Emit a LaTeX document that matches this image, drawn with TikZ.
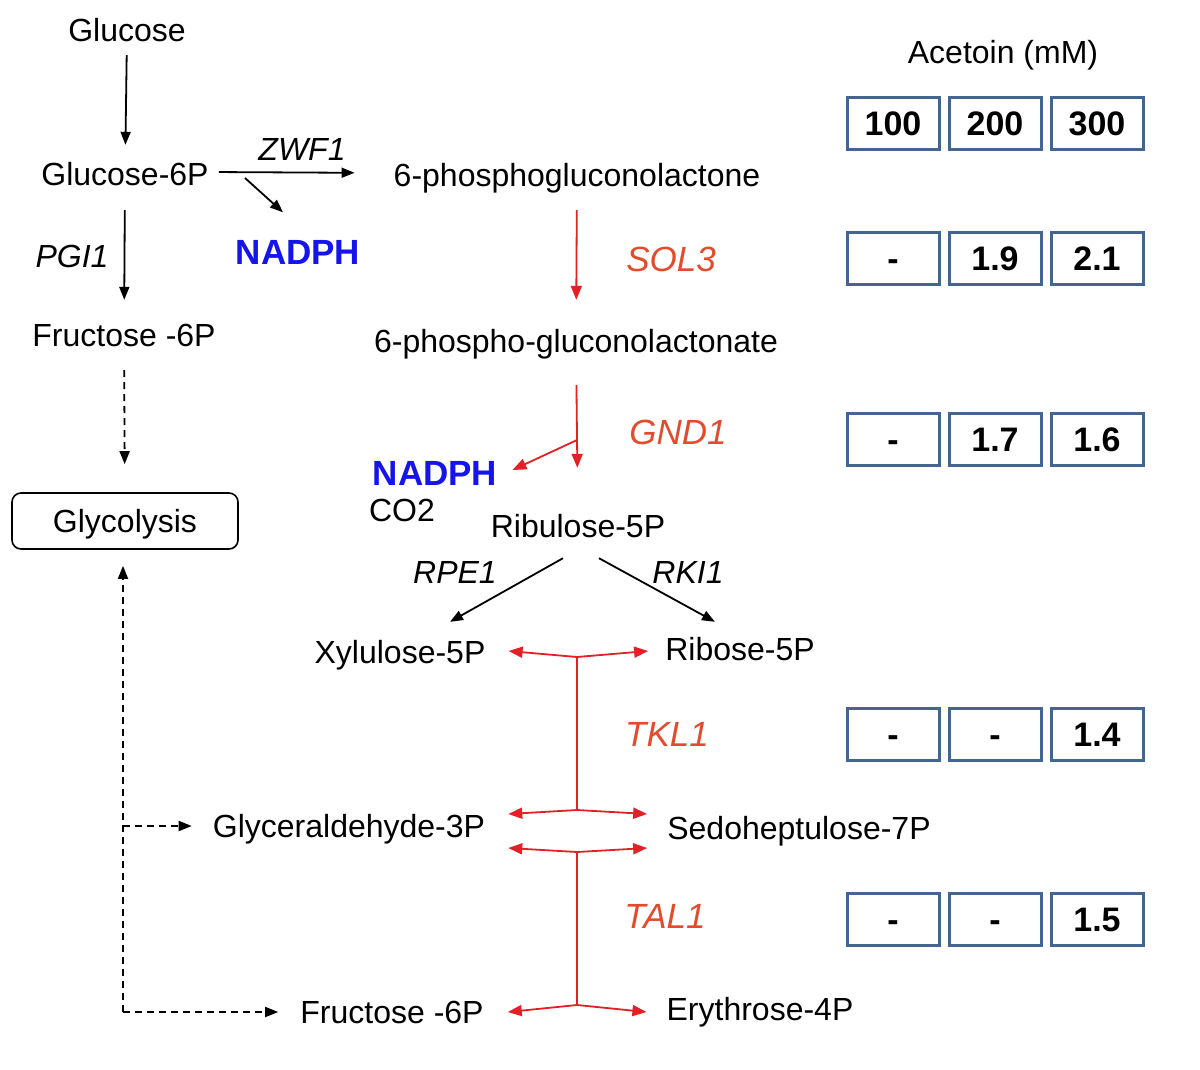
\documentclass[tikz,border=0pt]{standalone}
\usepackage{fontspec}
\setmainfont{Liberation Sans}
\usepackage{tikz}
\usetikzlibrary{arrows.meta,calc}
\definecolor{nadphblue}{RGB}{20,20,235}
\definecolor{enzred}{RGB}{226,76,44}
\definecolor{fluxred}{RGB}{228,32,38}
\definecolor{cellblue}{RGB}{68,100,145}

\tikzset{
  met/.style={inner sep=2pt, text height=23pt, text depth=7pt, font=\fontsize{32}{38}\selectfont},
  gene/.style={inner sep=2pt, font=\fontsize{32}{38}\selectfont\itshape},
  enzyme/.style={inner sep=2pt, font=\fontsize{35}{42}\selectfont\itshape, text=enzred},
  cofactor/.style={inner sep=2pt, text height=25pt, text depth=0pt, font=\fontsize{35}{42}\selectfont\bfseries, text=nadphblue},
  cell/.style={draw=cellblue, line width=3pt, minimum width=92pt, minimum height=52pt, inner sep=0pt,
               text height=25pt, text depth=0pt, font=\fontsize{34}{40}\selectfont\bfseries},
  blkarrow/.style={line width=1.8pt, -{Triangle[length=13pt,width=10pt]}},
  dasharrow/.style={blkarrow, dash pattern=on 7pt off 5pt},
  redline/.style={line width=1.8pt, draw=fluxred},
  redarrow/.style={redline, -{Triangle[length=14pt,width=11pt]}, fill=fluxred},
}

\begin{document}
\begin{tikzpicture}[x=1pt, y=-1pt]
  \useasboundingbox (0,0) rectangle (1200,1069);

  % Upper glycolysis
  \node[met] (glc) at (127,33) {Glucose};
  \node[met] (g6p) at (125,177) {Glucose-6P};
  \node[met] (f6p) at (124,338) {Fructose -6P};
  \node[draw, line width=1.6pt, rounded corners=9pt, minimum width=226pt, minimum height=56pt,
        text height=23pt, text depth=0pt, font=\fontsize{32}{38}\selectfont] (glyco) at (125,521) {Glycolysis};
  \node[gene] (pgi) at (72,256) {PGI1};

  \draw[blkarrow, shorten <=5pt, shorten >=15pt] (glc) -- (g6p);
  \draw[blkarrow, shorten <=16pt, shorten >=21pt] (g6p) -- (f6p);
  \draw[dasharrow, shorten <=15pt, shorten >=28pt] (f6p) -- (glyco);

  % Oxidative branch
  \node[met] (pgl) at (577,178) {6-phosphogluconolactone};
  \node[met] (pglt) at (576,344) {6-phospho-gluconolactonate};
  \node[met] (ru5p) at (578,529) {Ribulose-5P};
  \node[gene] (zwf) at (302,149) {ZWF1};
  \node[cofactor] (nadpha) at (298,252) {NADPH};
  \node[cofactor] (nadphb) at (435,473) {NADPH};
  \node[met] (co2) at (402,513) {CO2};
  \node[enzyme] (sol) at (671,259) {SOL3};
  \node[enzyme] (gnd) at (678,432) {GND1};
  \coordinate (zwfsplit) at (245,178);
  \coordinate (gndsplit) at (577,440);

  \draw[blkarrow, shorten <=8pt, shorten >=37pt] ([yshift=5pt]g6p.east) -- ([yshift=5pt]pgl.west);
  \draw[blkarrow] (zwfsplit) -- ([xshift=-15pt,yshift=25pt]nadpha.north);
  \draw[redarrow, shorten <=15pt, shorten >=27pt] (pgl) -- (pglt);
  \draw[redarrow, shorten <=24pt, shorten >=44pt] (pglt) -- (ru5p);
  \draw[redarrow] (gndsplit) -- ([xshift=13pt,yshift=3pt]nadphb.east);

  % Non-oxidative branch
  \node[met] (xu5p) at (400,655) {Xylulose-5P};
  \node[met] (r5p) at (740,652) {Ribose-5P};
  \node[gene] (rpe) at (455,572) {RPE1};
  \node[gene] (rki) at (688,572) {RKI1};
  \node[met] (gap) at (349,829) {Glyceraldehyde-3P};
  \node[met] (s7p) at (799,831) {Sedoheptulose-7P};
  \node[met] (fbp) at (392,1015) {Fructose -6P};
  \node[met] (e4p) at (760,1012) {Erythrose-4P};
  \node[enzyme] (tkl) at (667,734) {TKL1};
  \node[enzyme] (tal) at (665,916) {TAL1};

  \draw[blkarrow] ([xshift=-15pt,yshift=-12pt]ru5p.south) -- ([xshift=50pt,yshift=16pt]xu5p.north);
  \draw[blkarrow] ([xshift=21pt,yshift=-12pt]ru5p.south) -- ([xshift=-25pt,yshift=13pt]r5p.north);

  % TKL1 fork
  \coordinate (tkltop) at (577,657);
  \coordinate (tklbot) at (577,810);
  \draw[redline] (tkltop) -- (tklbot);
  \draw[redarrow] (tkltop) -- ([xshift=21pt,yshift=4pt]xu5p.east);
  \draw[redarrow] (tkltop) -- ([xshift=-15pt,yshift=1pt]r5p.west);
  \draw[redarrow] (tklbot) -- ([xshift=21pt,yshift=15pt]gap.east);
  \draw[redarrow] (tklbot) -- ([xshift=-18pt,yshift=17pt]s7p.west);

  % TAL1 fork
  \coordinate (taltop) at (577,852);
  \coordinate (talbot) at (577,1005);
  \draw[redline] (taltop) -- (talbot);
  \draw[redarrow] (taltop) -- ([xshift=21pt,yshift=-19pt]gap.east);
  \draw[redarrow] (taltop) -- ([xshift=-18pt,yshift=-17pt]s7p.west);
  \draw[redarrow] (talbot) -- ([xshift=22pt,yshift=3pt]fbp.east);
  \draw[redarrow] (talbot) -- ([xshift=-18pt]e4p.west);

  % Return to glycolysis
  \coordinate (dmid) at (123,826);
  \coordinate (dcorner) at (123,1012);
  \draw[dasharrow, shorten >=16pt] (dcorner) -- (glyco.south -| dcorner);
  \draw[dasharrow] (dmid) -- ([xshift=-19pt,yshift=3pt]gap.west);
  \draw[dasharrow] (dcorner) -- ([xshift=-20pt,yshift=3pt]fbp.west);

  % Acetoin table
  \node[font=\fontsize{32}{38}\selectfont] (acetoin) at (1003,55) {Acetoin (mM)};
  \node[cell] (c11) at (893,123) {100};
  \node[cell] (c12) at (995,123) {200};
  \node[cell] (c13) at (1097,123) {300};
  \node[cell] (c21) at (893,258) {-};
  \node[cell] (c22) at (995,258) {1.9};
  \node[cell] (c23) at (1097,258) {2.1};
  \node[cell] (c31) at (893,439) {-};
  \node[cell] (c32) at (995,439) {1.7};
  \node[cell] (c33) at (1097,439) {1.6};
  \node[cell] (c41) at (893,734) {-};
  \node[cell] (c42) at (995,734) {-};
  \node[cell] (c43) at (1097,734) {1.4};
  \node[cell] (c51) at (893,919) {-};
  \node[cell] (c52) at (995,919) {-};
  \node[cell] (c53) at (1097,919) {1.5};
\end{tikzpicture}
\end{document}
